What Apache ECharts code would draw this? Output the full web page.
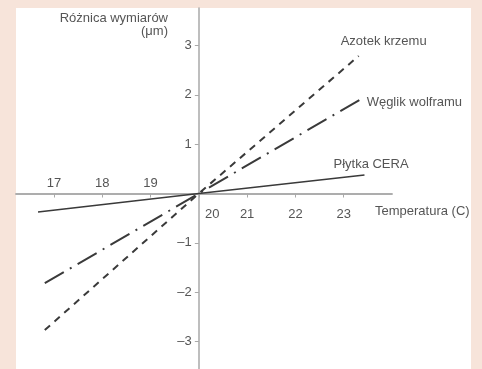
<!DOCTYPE html>
<html><head><meta charset="utf-8">
<script src="https://cdn.jsdelivr.net/npm/echarts@6/dist/echarts.min.js"></script>
<style>
html,body{margin:0;padding:0;background:#f7e4da;}
#panel{position:absolute;left:16px;top:8px;width:455px;height:361px;background:#fff;}
#chart{position:absolute;left:0;top:0;width:482px;height:369px;}
</style></head>
<body>
<div id="panel"></div>
<div id="chart"></div>
<script>
const seriesNames = ['Azotek krzemu', 'Węglik wolframu', 'Płytka CERA'];
const azotekKrzemu = [[16.81, -2.77], [20, 0], [23.31, 2.79]];
const weglikWolframu = [[16.81, -1.82], [20, 0], [23.33, 1.90]];
const plytkaCera = [[16.67, -0.375], [20, 0], [23.43, 0.375]];
const xTicksNeg = [17, 18, 19];
const xTicksPos = [20, 21, 22, 23];
const yTicks = [-3, -2, -1, 1, 2, 3];
const xAxisName = 'Temperatura (C)';
const yAxisName = 'Różnica wymiarów\n(μm)';

const FONT = "'Liberation Sans',Arial,sans-serif";
const FS = 13;
const TXT = '#555';
const LINE = '#3a3a3a';
const AXIS = '#a9a9a9';

// grid pixel geometry: x 16..392, y 8..369 ; axes cross at value (20, 0)
const X_MIN = 16.214, X_MAX = 24, Y_MIN = -3.56, Y_MAX = 3.763;
const gridLeft = 16, gridRight = 90, gridTop = 8, gridBottom = 0;
const gridW = 482 - gridLeft - gridRight, gridH = 369 - gridTop - gridBottom;
const yAxisOffset = -((20 - X_MIN) / (X_MAX - X_MIN) * gridW);
const xAxisOffset = -((0 - Y_MIN) / (Y_MAX - Y_MIN) * gridH);

const chart = echarts.init(document.getElementById('chart'), null, {renderer: 'canvas'});
const baseX = {
  type: 'value', min: X_MIN, max: X_MAX, position: 'bottom', offset: xAxisOffset,
  axisLine: {show: true, onZero: false, lineStyle: {color: AXIS, width: 1.5}},
  splitLine: {show: false}
};
const option = {
  animation: false,
  backgroundColor: 'transparent',
  grid: {left: gridLeft, right: gridRight, top: gridTop, bottom: gridBottom, containLabel: false, outerBoundsMode: 'none'},
  xAxis: [
    Object.assign({}, baseX, {
      axisTick: {show: true, customValues: xTicksNeg, length: 4, lineStyle: {color: AXIS}},
      axisLabel: {show: true, inside: true, margin: 4, customValues: xTicksNeg,
        color: TXT, fontFamily: FONT, fontSize: FS, lineHeight: FS}
    }),
    Object.assign({}, baseX, {
      axisTick: {show: true, customValues: xTicksPos, length: 4, lineStyle: {color: AXIS}},
      axisLabel: {show: true, margin: 14, customValues: xTicksPos,
        color: TXT, fontFamily: FONT, fontSize: FS, lineHeight: FS,
        formatter: function (v) { return v === 20 ? '{s|' + v + '}' : String(v); },
        rich: {s: {padding: [0, 0, 0, 27], fontFamily: FONT, fontSize: FS, color: TXT}}
      }
    })
  ],
  yAxis: {
    type: 'value', min: Y_MIN, max: Y_MAX, position: 'left', offset: yAxisOffset,
    axisLine: {show: true, onZero: false, lineStyle: {color: AXIS, width: 1.5}},
    axisTick: {show: true, customValues: yTicks, length: 4, lineStyle: {color: AXIS}},
    axisLabel: {show: true, margin: 7, customValues: yTicks, color: TXT, fontFamily: FONT, fontSize: FS,
      formatter: function (v) { return v < 0 ? '–' + Math.abs(v) : String(v); }},
    splitLine: {show: false}
  },
  graphic: [
    {type: 'text', x: 168, y: 12,
     style: {text: yAxisName, align: 'right', verticalAlign: 'top', fill: TXT, font: FS + 'px ' + FONT, lineHeight: 13}},
    {type: 'text', x: 375, y: 211,
     style: {text: xAxisName, align: 'left', verticalAlign: 'middle', fill: TXT, font: FS + 'px ' + FONT}}
  ],
  series: [
    {name: seriesNames[0], type: 'line', data: azotekKrzemu, showSymbol: false, symbol: 'none',
     lineStyle: {color: LINE, width: 2, type: [7, 6]},
     endLabel: {show: true, formatter: '{a}', color: TXT, fontFamily: FONT, fontSize: FS, offset: [-26, -15]}},
    {name: seriesNames[1], type: 'line', data: weglikWolframu, showSymbol: false, symbol: 'none',
     lineStyle: {color: LINE, width: 2, type: [22, 7, 2, 7]},
     endLabel: {show: true, formatter: '{a}', color: TXT, fontFamily: FONT, fontSize: FS, offset: [-1, 3]}},
    {name: seriesNames[2], type: 'line', data: plytkaCera, showSymbol: false, symbol: 'none',
     lineStyle: {color: LINE, width: 1.7, type: 'solid'},
     endLabel: {show: true, formatter: '{a}', color: TXT, fontFamily: FONT, fontSize: FS, offset: [-39, -11]}}
  ]
};
chart.setOption(option);
</script>
</body></html>
